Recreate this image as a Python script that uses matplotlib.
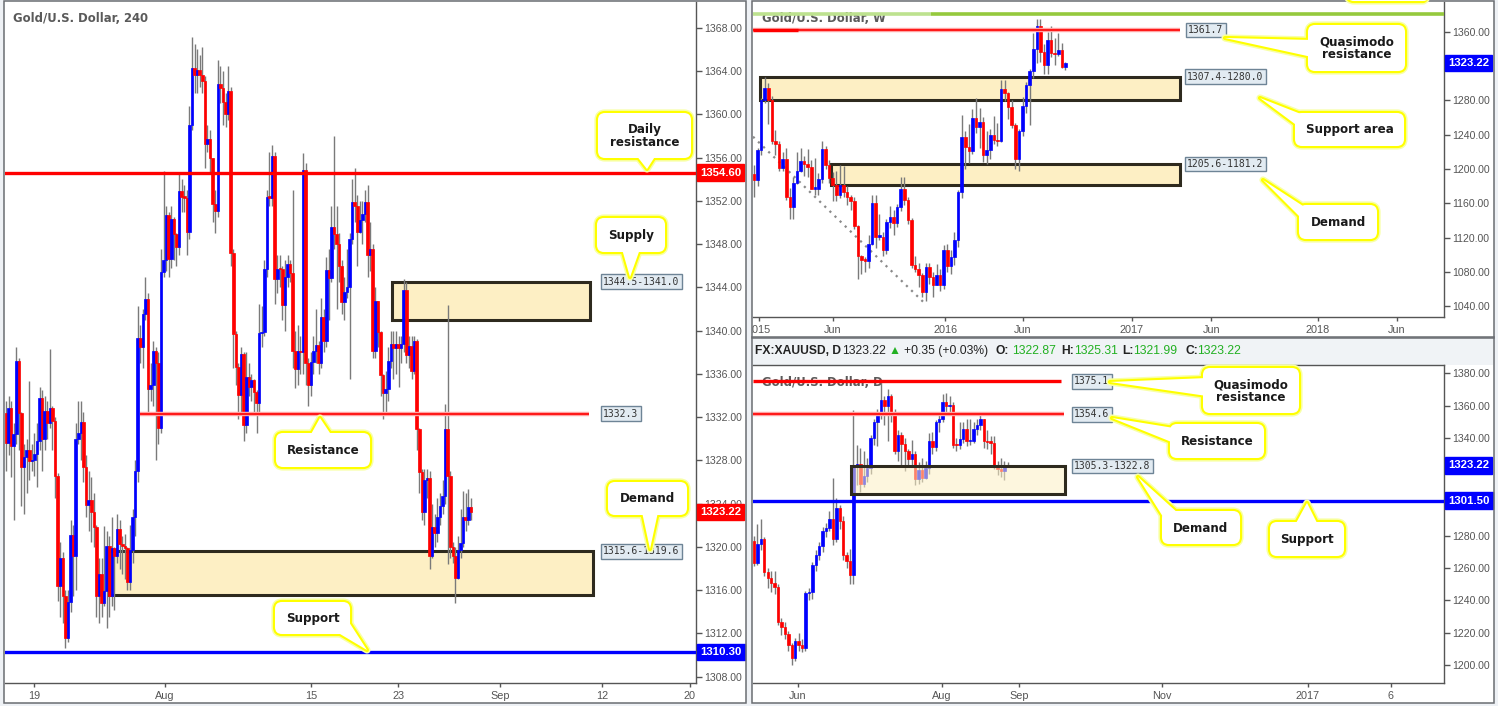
import numpy as np
import matplotlib
matplotlib.use("Agg")
import matplotlib.pyplot as plt
from matplotlib.patches import Rectangle, FancyBboxPatch, Polygon
from matplotlib.ticker import FormatStrFormatter

plt.rcParams['font.family'] = ['Liberation Sans', 'DejaVu Sans']

W, H = 1498, 706

# ---------------- data: Gold 4H ----------------
h4_open0 = 1332.4
h4_close = [
    1329.65, 1332.85, 1329.35, 1330.4, 1337.2, 1332.4, 1327.4, 1328.3, 1329.0, 1327.9,
    1328.0, 1328.55, 1329.8, 1333.8, 1330.0, 1332.6, 1331.5, 1332.85, 1331.6, 1326.6,
    1316.4, 1318.95, 1315.5, 1311.6, 1314.9, 1321.1, 1319.2, 1330.0, 1330.55, 1331.55,
    1327.35, 1323.9, 1324.3, 1323.2, 1321.8, 1315.45, 1317.5, 1314.8, 1315.9, 1320.1,
    1315.45, 1319.9, 1319.15, 1321.7, 1320.25, 1320.1, 1319.9, 1316.75, 1319.7, 1322.8,
    1327.05, 1339.3, 1338.45, 1341.5, 1342.9, 1334.6, 1335.0, 1338.1, 1337.0, 1331.0,
    1345.4, 1346.5, 1350.7, 1346.6, 1350.3, 1348.9, 1347.75, 1352.9, 1352.35, 1352.3,
    1349.15, 1359.0, 1364.25, 1363.6, 1364.07, 1363.59, 1363.07, 1357.25, 1357.7, 1355.96,
    1351.7, 1351.1, 1362.78, 1362.41, 1361.12, 1360.0, 1362.15, 1347.2, 1339.7, 1336.6,
    1334.05, 1337.8, 1331.3, 1335.7,
    1334.8, 1335.4, 1334.3, 1333.3, 1339.75, 1339.9, 1345.7, 1352.35, 1352.3, 1356.15,
    1344.75, 1345.7, 1345.65, 1342.35, 1345.0, 1346.2, 1345.35, 1338.1, 1336.45, 1338.1,
    1338.0, 1354.86, 1337.0, 1335.0, 1337.1, 1338.1, 1338.65, 1337.0, 1341.25, 1339.0,
    1345.6, 1344.9, 1349.6, 1348.9, 1348.05, 1346.0, 1342.6, 1343.55, 1344.05, 1348.5,
    1351.85, 1351.5, 1349.15, 1350.25, 1350.8, 1351.85,
    1346.95, 1347.55, 1338.1, 1342.7, 1339.9, 1335.9, 1334.25, 1334.6, 1337.2, 1338.75,
    1338.4, 1338.75, 1338.4, 1338.75, 1343.75, 1337.75, 1338.55, 1336.25, 1339.0, 1330.9,
    1326.95, 1323.25, 1326.2, 1326.4, 1319.2, 1321.8, 1321.3, 1322.75, 1323.75, 1324.75,
    1330.9, 1326.6, 1319.95, 1319.2, 1317.1, 1319.7, 1320.4, 1322.8, 1322.5, 1323.65,
    1323.22]
h4_high = [
    1333.5, 1334.0, 1333.5, 1331.5, 1338.5, 1337.5, 1332.5, 1329.5, 1330.0, 1335.3,
    1329.5, 1330.5, 1331.5, 1334.8, 1334.5, 1334.0, 1333.5, 1338.3, 1333.0, 1332.0,
    1326.8, 1320.5, 1319.5, 1316.0, 1316.0, 1322.5, 1322.0, 1331.5, 1333.5, 1333.5,
    1332.5, 1328.5, 1327.0, 1326.5, 1325.0, 1322.0, 1319.0, 1319.0, 1321.9, 1321.5,
    1321.0, 1322.8, 1320.0, 1323.0, 1322.5, 1321.0, 1321.2, 1320.0, 1322.0, 1323.5,
    1328.0, 1342.3, 1340.5, 1342.0, 1345.0, 1343.5, 1337.0, 1339.0, 1338.5, 1338.0,
    1347.5, 1354.8, 1351.5, 1351.0, 1351.5, 1350.5, 1349.0, 1354.5, 1354.0, 1353.5,
    1353.0, 1360.8, 1367.1, 1366.5, 1366.0, 1365.5, 1366.2, 1363.5, 1359.0, 1358.5,
    1356.0, 1353.0, 1365.0, 1364.5, 1364.0, 1362.0, 1364.5, 1362.5, 1347.5, 1340.0,
    1337.0, 1338.5, 1338.0, 1338.0,
    1337.0, 1336.0, 1335.5, 1334.5, 1342.5, 1342.3, 1346.5, 1353.0, 1356.5, 1357.2,
    1356.5, 1347.0, 1347.0, 1346.0, 1346.5, 1347.0, 1346.5, 1353.0, 1340.0, 1340.5,
    1339.5, 1356.4, 1355.5, 1337.5, 1338.0, 1339.5, 1342.0, 1339.0, 1343.0, 1342.0,
    1346.8, 1347.5, 1351.5, 1358.0, 1351.5, 1349.0, 1346.5, 1345.0, 1347.5, 1349.0,
    1354.0, 1355.0, 1352.5, 1352.0, 1352.0, 1353.0,
    1353.5, 1350.0, 1348.0, 1344.0, 1342.5, 1340.0, 1336.0, 1336.3, 1338.5, 1340.0,
    1340.0, 1340.0, 1339.5, 1339.5, 1344.8, 1344.5, 1339.5, 1339.5, 1339.5, 1339.2,
    1331.0, 1327.2, 1327.2, 1327.2, 1327.0, 1324.0, 1323.0, 1324.5, 1325.0, 1326.2,
    1333.2, 1342.35, 1327.0, 1320.5, 1320.0, 1321.0, 1323.5, 1325.2, 1325.0, 1325.4,
    1324.5]
h4_low = [
    1327.0, 1328.5, 1326.5, 1322.5, 1329.5, 1329.0, 1323.8, 1323.0, 1325.0, 1326.2,
    1327.0, 1326.6, 1325.5, 1329.0, 1327.0, 1329.0, 1330.0, 1331.0, 1329.0, 1324.5,
    1315.0, 1313.5, 1313.0, 1310.7, 1311.2, 1314.0, 1315.5, 1316.0, 1329.5, 1328.0,
    1326.0, 1322.8, 1321.5, 1320.5, 1320.0, 1313.5, 1313.0, 1313.5, 1314.5, 1312.5,
    1313.5, 1314.5, 1314.2, 1318.5, 1318.0, 1317.5, 1317.0, 1316.0, 1316.0, 1318.5,
    1321.0, 1326.0, 1337.0, 1336.5, 1341.0, 1332.5, 1333.5, 1333.0, 1328.0, 1329.5,
    1330.5, 1345.0, 1345.5, 1345.0, 1345.8, 1346.5, 1346.0, 1347.0, 1351.0, 1351.0,
    1347.0, 1348.5, 1358.5, 1362.0, 1362.0, 1362.5, 1362.0, 1355.0, 1356.5, 1354.5,
    1350.0, 1349.0, 1350.5, 1361.0, 1359.0, 1358.8, 1359.5, 1346.0, 1336.5, 1335.0,
    1331.8, 1332.5, 1329.8, 1330.5,
    1334.0, 1333.5, 1332.5, 1330.5, 1332.5, 1338.5, 1339.5, 1345.0, 1351.5, 1351.5,
    1342.5, 1343.5, 1344.0, 1341.0, 1340.0, 1344.0, 1344.5, 1336.5, 1334.7, 1335.0,
    1336.0, 1336.0, 1335.0, 1333.0, 1334.0, 1336.0, 1337.0, 1336.0, 1336.5, 1338.0,
    1338.5, 1341.0, 1344.5, 1347.5, 1342.0, 1344.5, 1341.5, 1341.0, 1343.0, 1335.5,
    1348.0, 1350.0, 1346.0, 1349.0, 1348.0, 1350.0,
    1345.0, 1345.5, 1337.5, 1337.5, 1338.5, 1334.0, 1331.8, 1332.5, 1333.5, 1336.5,
    1335.5, 1336.0, 1334.8, 1337.0, 1338.0, 1337.0, 1336.5, 1335.5, 1336.0, 1329.0,
    1325.0, 1322.5, 1322.0, 1324.5, 1318.0, 1319.0, 1320.0, 1320.5, 1322.0, 1323.0,
    1324.0, 1318.4, 1319.0, 1318.5, 1314.8, 1317.0, 1319.0, 1320.0, 1321.5, 1322.0,
    1322.5]
h4_ticks = [10.8, 61.6, 118.1, 151.8, 191.3, 230.7, 264.8]
h4_ticklabels = ['19', 'Aug', '15', '23', 'Sep', '12', '20']
h4_yticks = [1308, 1312, 1316, 1320, 1324, 1328, 1332, 1336, 1340, 1344, 1348,
             1352, 1356, 1360, 1364, 1368]

# ---------------- data: Gold weekly ----------------
wk_open0 = 1194
wk_close = [
    1187, 1222, 1280, 1294, 1280, 1232, 1229, 1201, 1212, 1167,
    1156, 1183, 1198, 1209, 1206, 1202, 1177, 1177, 1188, 1223,
    1205, 1189, 1181, 1169, 1181, 1173, 1167, 1162, 1133, 1098,
    1094, 1093, 1113, 1160, 1121, 1121, 1105, 1138, 1144, 1137,
    1155, 1176, 1164, 1140, 1088, 1083, 1076, 1056, 1086, 1074,
    1065, 1076, 1065, 1105, 1087, 1097, 1117, 1173, 1237, 1226,
    1221, 1259, 1249, 1255, 1216, 1222, 1239, 1234, 1232, 1293,
    1288, 1272, 1251, 1212, 1244, 1273, 1298, 1314, 1340, 1366,
    1336, 1321, 1350, 1335, 1334, 1339, 1319, 1323.22]
wk_high = [
    1205, 1224, 1283, 1307, 1300, 1285, 1245, 1233, 1220, 1224,
    1178, 1190, 1220, 1224, 1215, 1223, 1210, 1213, 1195, 1232,
    1227, 1210, 1196, 1197, 1205, 1203, 1180, 1170, 1167, 1135,
    1100, 1097, 1123, 1170, 1169, 1147, 1127, 1142, 1157, 1152,
    1159, 1191, 1191, 1167, 1143, 1098, 1090, 1079, 1090, 1090,
    1080, 1089, 1083, 1111, 1113, 1105, 1127, 1175, 1263, 1244,
    1252, 1270, 1283, 1271, 1260, 1244, 1246, 1262, 1253, 1304,
    1303, 1290, 1280, 1254, 1247, 1284, 1301, 1316, 1358, 1375,
    1375, 1346, 1360, 1367, 1352, 1358, 1347, 1325]
wk_low = [
    1167, 1180, 1216, 1277, 1252, 1229, 1216, 1197, 1197, 1164,
    1142, 1142, 1182, 1196, 1192, 1190, 1176, 1169, 1170, 1184,
    1200, 1183, 1162, 1162, 1166, 1167, 1158, 1152, 1130, 1072,
    1077, 1080, 1085, 1111, 1108, 1117, 1098, 1101, 1131, 1123,
    1132, 1151, 1158, 1136, 1085, 1080, 1062, 1051, 1046, 1066,
    1051, 1065, 1058, 1060, 1080, 1078, 1088, 1109, 1166, 1200,
    1207, 1217, 1242, 1224, 1208, 1206, 1211, 1229, 1227, 1231,
    1279, 1258, 1248, 1200, 1198, 1238, 1265, 1251, 1306, 1323,
    1324, 1310, 1311, 1330, 1321, 1331, 1318, 1315]
wk_ticks = [1.4, 22.1, 53.4, 75.1, 105.6, 127.7, 157.5, 179.6]
wk_ticklabels = ['2015', 'Jun', '2016', 'Jun', '2017', 'Jun', '2018', 'Jun']
wk_yticks = [1040, 1080, 1120, 1160, 1200, 1240, 1280, 1360]

# ---------------- data: XAUUSD daily ----------------
d_open0 = 1276.5
d_close = [
    1263.1, 1274.5, 1278.0, 1257.5, 1253.8, 1250.7, 1248.3, 1226.7, 1223.4, 1219.3,
    1212.3, 1204.9, 1215.2, 1212.7, 1211.0, 1244.5, 1245.5, 1262.0, 1268.2, 1273.3,
    1282.6, 1284.6, 1290.2, 1278.1, 1297.0, 1289.2, 1267.8, 1264.5, 1255.4, 1322.7,
    1324.0, 1312.0, 1316.5, 1321.6, 1340.2, 1350.0, 1355.6, 1363.2, 1359.7, 1365.9,
    1354.5, 1331.9, 1341.8, 1336.5, 1331.9, 1326.9, 1330.0, 1314.5, 1320.6, 1315.5,
    1321.6, 1338.5, 1334.4, 1350.0, 1351.5, 1362.4, 1359.7, 1360.3, 1336.0, 1335.6,
    1339.7, 1345.3, 1338.1, 1338.5, 1345.7, 1348.3, 1351.5, 1338.5, 1337.7, 1337.1,
    1323.7, 1321.2, 1319.6, 1322.87, 1323.22]
d_high = [
    1280, 1287, 1290, 1279, 1260, 1258, 1258, 1250, 1229, 1227,
    1221, 1214, 1217, 1220, 1216, 1246, 1248, 1264, 1271, 1276,
    1285, 1288, 1295, 1315.5, 1303, 1299, 1292, 1270, 1272, 1357.4,
    1336, 1334, 1332, 1328, 1342, 1352, 1358, 1374.5, 1366, 1370,
    1367, 1358, 1345, 1344, 1340, 1333, 1339, 1332, 1325, 1328,
    1326, 1343, 1344, 1351, 1356, 1367, 1368, 1366, 1362, 1340,
    1350, 1350, 1352, 1352, 1350, 1352, 1356, 1352, 1345, 1341,
    1341, 1326, 1328, 1326, 1325.31]
d_low = [
    1261, 1262, 1271, 1255, 1248, 1245, 1244, 1225, 1219, 1216,
    1209, 1200, 1203, 1209, 1208, 1209, 1240, 1241, 1258, 1265,
    1270, 1279, 1283, 1274, 1276, 1284, 1265, 1260, 1250, 1250,
    1311, 1307, 1310, 1313, 1318, 1336, 1335, 1352, 1348, 1338,
    1350, 1330, 1326, 1323, 1320, 1322, 1322, 1311, 1312, 1313,
    1315, 1318, 1330, 1332, 1344, 1350, 1355, 1356, 1334, 1332,
    1333, 1337, 1335, 1336, 1337, 1342, 1345, 1334, 1333, 1330,
    1321, 1317, 1316, 1314, 1321.99]
d_ticks = [12.8, 54.8, 77.3, 119.0, 161.5, 185.7]
d_ticklabels = ['Jun', 'Aug', 'Sep', 'Nov', '2017', '6']
d_yticks = [1200, 1220, 1240, 1260, 1280, 1340, 1360, 1380]

# ---------------- layout (pixels) ----------------
H4_PX0, H4_STEP = 6, 2.583
WK_PX0, WK_STEP = 754, 3.58
D_PX0, D_STEP = 754, 3.43
BG = '#eef1f5'
GRAY = '#555555'
UP, DOWN = '#0000ff', '#ff0000'


def ix(px, px0, step):
    return (px - px0) / step


fig = plt.figure(figsize=(W / 100, H / 100), dpi=100, facecolor=BG)


def px_axes(x0, y0, x1, y1):
    return fig.add_axes([x0 / W, 1 - y1 / H, (x1 - x0) / W, (y1 - y0) / H])


bg = px_axes(0, 0, W, H)
bg.set_xlim(0, W)
bg.set_ylim(H, 0)
bg.axis('off')
bg.set_zorder(-5)
for x0, y0, x1, y1 in [(4, 1, 746, 703), (752, 1, 1494, 338), (752, 337, 1494, 703)]:
    bg.add_patch(Rectangle((x0, y0), x1 - x0, y1 - y0, fc='white', ec='none'))
bg.add_patch(Rectangle((753, 338), 740, 27, fc='#f0f3f6', ec='none'))

fg = px_axes(0, 0, W, H)
fg.set_xlim(0, W)
fg.set_ylim(H, 0)
fg.axis('off')
fg.set_zorder(10)


def setup(ax, xlim, ylim, yticks, xticks, xlabels, top=False):
    ax.set_facecolor('white')
    ax.set_xlim(*xlim)
    ax.set_ylim(*ylim)
    ax.spines['left'].set_visible(False)
    ax.spines['top'].set_visible(top)
    for s in ax.spines.values():
        s.set_color(GRAY)
        s.set_linewidth(1)
    ax.yaxis.tick_right()
    ax.set_yticks(yticks)
    ax.yaxis.set_major_formatter(FormatStrFormatter('%.2f'))
    ax.set_xticks(xticks)
    ax.set_xticklabels(xlabels)
    ax.tick_params(axis='y', length=4, width=1, color=GRAY, labelsize=7.6,
                   labelcolor=GRAY, pad=2)
    ax.tick_params(axis='x', length=3, width=1, color=GRAY, labelsize=7.8,
                   labelcolor=GRAY, pad=3)


def candles(ax, open0, close, high, low, width, min_h, zorder=3):
    c = np.array(close, dtype=float)
    o = np.concatenate([[open0], c[:-1]])
    hi = np.maximum(np.array(high, dtype=float), np.maximum(o, c))
    lo = np.minimum(np.array(low, dtype=float), np.minimum(o, c))
    x = np.arange(len(c))
    cols = np.where(c >= o, UP, DOWN)
    ax.vlines(x, lo, hi, color='#7a7a7a', lw=1, zorder=zorder - 1)
    ax.bar(x, np.maximum(np.abs(c - o), min_h), width, bottom=np.minimum(o, c),
           color=cols, edgecolor=cols, lw=0.5, zorder=zorder)
    return c, o


def zone(ax, xa, xb, lo, hi, zorder=1, alpha=1.0):
    ax.add_patch(Rectangle((xa, lo), xb - xa, hi - lo, fc='#fdefc4', ec='none',
                           alpha=alpha, zorder=zorder))
    ax.add_patch(Rectangle((xa, lo), xb - xa, hi - lo, fc='none', ec='#2e2a1e',
                           lw=2.2, zorder=zorder + 0.1))


def soft_line(ax, y, xa, xb):
    ax.hlines(y, xa, xb, color='#ffaaaa', lw=3.2, zorder=4)
    ax.hlines(y, xa, xb, color='#ff1a1a', lw=1.5, zorder=4.1)


def label(ax, x, y, txt):
    ax.text(x, y, txt, ha='left', va='center', fontsize=7, family='DejaVu Sans Mono',
            color='#333333', zorder=9, clip_on=False,
            bbox=dict(boxstyle='square,pad=0.25', fc='#e2ebf2', ec='#6e8496', lw=1))


def tag(ax, y, txt, color):
    ax.annotate(txt, xy=(1, y), xycoords=ax.get_yaxis_transform(), xytext=(4, 0),
                textcoords='offset pixels', ha='left', va='center', color='white',
                fontsize=8.2, fontweight='bold', annotation_clip=False, zorder=10,
                bbox=dict(boxstyle='square,pad=0.28', fc=color, ec=color))


def title(ax, px, py, txt):
    ax.text(px, py, txt, transform=fg.transData, ha='left', va='center', fontsize=8.4,
            family='DejaVu Sans', fontweight='bold', color='#5a5a5a', zorder=1,
            clip_on=False)


# ---------------- 4H chart ----------------
ax4 = px_axes(5, 2, 696, 683)
setup(ax4, (ix(5, H4_PX0, H4_STEP), ix(696, H4_PX0, H4_STEP)), (1307.42, 1370.38),
      h4_yticks, h4_ticks, h4_ticklabels)
title(ax4, 13, 18, 'Gold/U.S. Dollar, 240')
zone(ax4, ix(392, H4_PX0, H4_STEP), ix(590, H4_PX0, H4_STEP), 1341.0, 1344.5)
zone(ax4, ix(108, H4_PX0, H4_STEP), ix(593, H4_PX0, H4_STEP), 1315.6, 1319.6)
c4, o4 = candles(ax4, h4_open0, h4_close, h4_high, h4_low, 1.0, 0.15)
ax4.axhline(1354.60, color='#ff0000', lw=2.4, zorder=4)
ax4.axhline(1310.30, color='#0000ff', lw=2.4, zorder=4)
soft_line(ax4, 1332.3, ix(140, H4_PX0, H4_STEP), ix(589, H4_PX0, H4_STEP))
label(ax4, ix(603, H4_PX0, H4_STEP), 1344.5, '1344.5-1341.0')
label(ax4, ix(603, H4_PX0, H4_STEP), 1332.3, '1332.3')
label(ax4, ix(603, H4_PX0, H4_STEP), 1319.6, '1315.6-1319.6')
tag(ax4, 1354.60, '1354.60', '#ff0000')
tag(ax4, c4[-1], f'{c4[-1]:.2f}', UP if c4[-1] >= o4[-1] else DOWN)
tag(ax4, 1310.30, '1310.30', '#0000ff')

# ---------------- weekly chart ----------------
axw = px_axes(753, 2, 1444, 317)
setup(axw, (ix(753, WK_PX0, WK_STEP), ix(1444, WK_PX0, WK_STEP)), (1027.4, 1394.4),
      wk_yticks, wk_ticks, wk_ticklabels)
title(axw, 762, 18, 'Gold/U.S. Dollar, W')
wx0, wsplit, wend = ix(753, WK_PX0, WK_STEP), ix(931, WK_PX0, WK_STEP), ix(1444, WK_PX0, WK_STEP)
axw.hlines(1380.4, wx0, wsplit, color='#bde28f', lw=2.6, zorder=4)
axw.hlines(1380.4, wsplit, wend, color='#95c93d', lw=2.6, zorder=4)
zone(axw, ix(760, WK_PX0, WK_STEP), ix(1180, WK_PX0, WK_STEP), 1280.0, 1307.4)
zone(axw, ix(831, WK_PX0, WK_STEP), ix(1180, WK_PX0, WK_STEP), 1181.2, 1205.6)
trend_x = [ix(753, WK_PX0, WK_STEP), 47.2]
trend_y = [1237.5, 1045.3]
axw.plot(trend_x, trend_y, ls=(0, (1, 2.2)), color='#8a8a8a', lw=1.6, zorder=2)
cw, ow = candles(axw, wk_open0, wk_close, wk_high, wk_low, 0.72, 1.5)
soft_line(axw, 1361.7, wx0, ix(1180, WK_PX0, WK_STEP))
axw.hlines(1361.7, wx0, ix(798, WK_PX0, WK_STEP), color='#ff0000', lw=2.4, zorder=4.2)
label(axw, ix(1188, WK_PX0, WK_STEP), 1361.7, '1361.7')
label(axw, ix(1187, WK_PX0, WK_STEP), 1307.4, '1307.4-1280.0')
label(axw, ix(1187, WK_PX0, WK_STEP), 1205.6, '1205.6-1181.2')
tag(axw, cw[-1], f'{cw[-1]:.2f}', UP if cw[-1] >= ow[-1] else DOWN)

# ---------------- daily chart ----------------
axd = px_axes(753, 365, 1444, 683)
setup(axd, (ix(753, D_PX0, D_STEP), ix(1444, D_PX0, D_STEP)), (1189.2, 1385.0),
      d_yticks, d_ticks, d_ticklabels, top=True)
title(axd, 762, 382, 'Gold/U.S. Dollar, D')
cd, od = candles(axd, d_open0, d_close, d_high, d_low, 0.7, 0.8)
zone(axd, ix(851, D_PX0, D_STEP), ix(1065, D_PX0, D_STEP), 1305.3, 1322.8, zorder=5, alpha=0.55)
dx0 = ix(753, D_PX0, D_STEP)
axd.hlines(1375.1, dx0, ix(1061, D_PX0, D_STEP), color='#ff0000', lw=2.4, zorder=6)
soft_line(axd, 1354.6, dx0, ix(1064, D_PX0, D_STEP))
axd.axhline(1301.50, color='#0000ff', lw=2.4, zorder=6)
label(axd, ix(1074, D_PX0, D_STEP), 1375.1, '1375.1')
label(axd, ix(1074, D_PX0, D_STEP), 1354.6, '1354.6')
label(axd, ix(1074, D_PX0, D_STEP), 1322.8, '1305.3-1322.8')
tag(axd, cd[-1], f'{cd[-1]:.2f}', UP if cd[-1] >= od[-1] else DOWN)
tag(axd, 1301.50, '1301.50', '#0000ff')

# ---------------- header of the daily panel ----------------
chg = cd[-1] - od[-1]
pct = chg / od[-1] * 100
GREEN = '#22b022'
DARK = '#222222'
header = [
    (755, 'FX:XAUUSD, D', 'bold', DARK),
    (842, f'{cd[-1]:.2f}', 'normal', DARK),
    (889, '\u25B2', 'normal', GREEN),
    (904, f'{chg:+.2f} ({pct:+.2f}%)', 'normal', DARK),
    (996, 'O:', 'bold', DARK), (1012, f'{od[-1]:.2f}', 'normal', GREEN),
    (1061, 'H:', 'bold', DARK), (1074, f'{d_high[-1]:.2f}', 'normal', GREEN),
    (1122, 'L:', 'bold', DARK), (1133, f'{d_low[-1]:.2f}', 'normal', GREEN),
    (1185, 'C:', 'bold', DARK), (1197, f'{cd[-1]:.2f}', 'normal', GREEN),
]
for hx, txt, wt, col in header:
    fg.text(hx, 351, txt, ha='left', va='center', fontsize=8.7, fontweight=wt, color=col,
            family=['Liberation Sans', 'DejaVu Sans'], zorder=3)

# ---------------- panel frames ----------------
fg.add_patch(Rectangle((746.6, 0), 5.4, H, fc=BG, ec='none', zorder=1))
for x0, y0, x1, y1 in [(4, 1, 746, 703), (752, 1, 1494, 338), (752, 337, 1494, 703)]:
    fg.add_patch(Rectangle((x0, y0), x1 - x0, y1 - y0, fc='none', ec='#6a6d72', lw=1.1, zorder=1.5))


# ---------------- callouts ----------------
def callout(box, text, pointer=None):
    x0, y0, x1, y1 = box

    def shapes():
        ps = [FancyBboxPatch((x0, y0), x1 - x0, y1 - y0,
                             boxstyle='round,pad=0,rounding_size=7')]
        if pointer is not None:
            ps.append(Polygon(pointer, closed=True))
        return ps

    for p in shapes():
        p.set(fc='none', ec='#f8ffa6', lw=5.2, joinstyle='round', zorder=2)
        fg.add_patch(p)
    for p in shapes():
        p.set(fc='none', ec='#ffff00', lw=3.0, joinstyle='round', zorder=3)
        fg.add_patch(p)
    for p in shapes():
        p.set(fc='white', ec='none', zorder=4)
        fg.add_patch(p)
    if text:
        fg.text((x0 + x1) / 2, (y0 + y1) / 2 + 0.5, text, ha='center', va='center',
                fontsize=8.6, fontweight='bold', family='DejaVu Sans', color='#1a1a1a',
                linespacing=0.95, zorder=5)


callout((598, 113, 691, 158), 'Daily\nresistance', [(636, 155), (656, 155), (647, 169)])
callout((597, 218, 665, 252), 'Supply', [(622, 249), (640, 249), (630, 277)])
callout((276, 433, 370, 467), 'Resistance', [(310, 436), (332, 436), (320, 418)])
callout((608, 482, 687, 515), 'Demand', [(642, 512), (658, 512), (650, 549)])
callout((275, 602, 350, 634), 'Support', [(335, 631), (347, 619), (367, 650)])

callout((1308, 25, 1405, 71), 'Quasimodo\nresistance', [(1312, 40), (1312, 57), (1225, 38)])
callout((1295, 113, 1404, 146), 'Support area', [(1306, 116), (1299, 127), (1260, 98)])
callout((1299, 205, 1377, 239), 'Demand', [(1306, 208), (1302, 219), (1263, 180)])
callout((1347, -40, 1430, 1), '')

callout((1203, 368, 1299, 413), 'Quasimodo\nresistance', [(1207, 378), (1207, 396), (1110, 382)])
callout((1170, 424, 1264, 458), 'Resistance', [(1174, 428), (1174, 443), (1112, 418)])
callout((1162, 511, 1240, 544), 'Demand', [(1165, 520), (1179, 514), (1138, 477)])
callout((1270, 522, 1344, 556), 'Support', [(1295, 525), (1318, 525), (1307, 503)])

fig.savefig('out.png', dpi=100, facecolor=BG)
